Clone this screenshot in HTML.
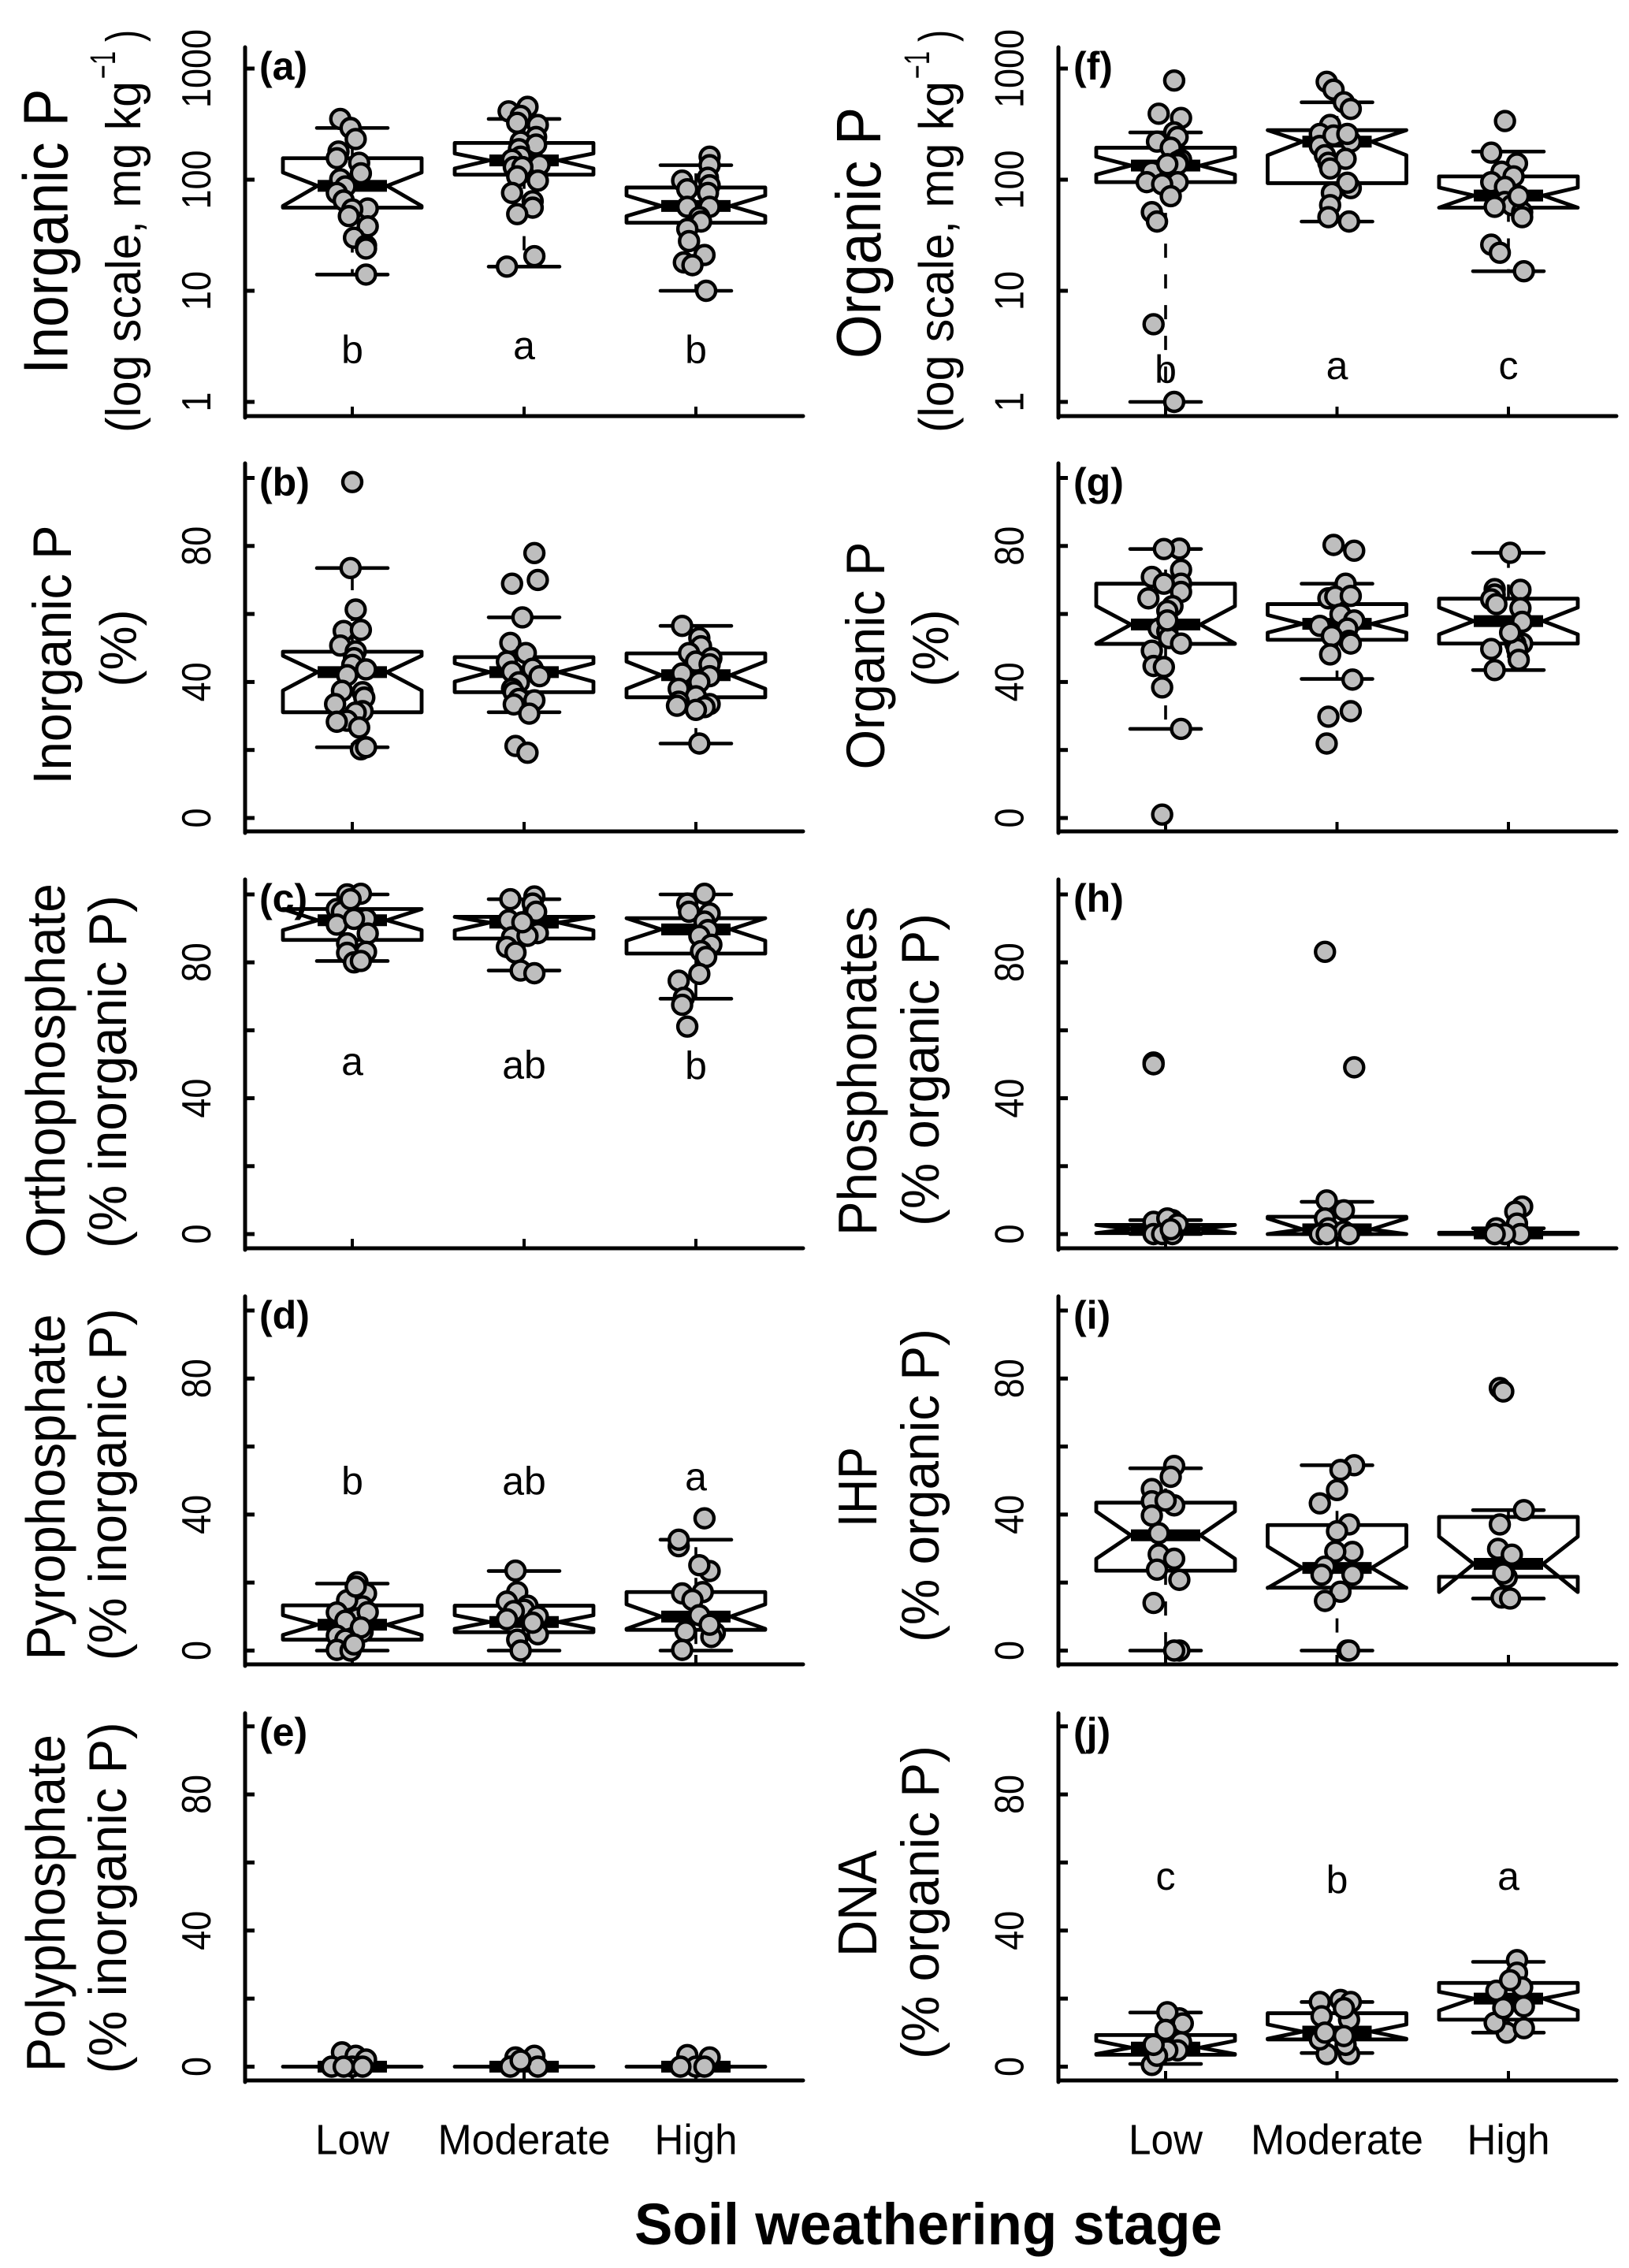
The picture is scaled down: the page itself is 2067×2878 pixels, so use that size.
<!DOCTYPE html>
<html lang="en">
<head>
<meta charset="utf-8">
<title>Soil phosphorus composition by weathering stage</title>
<style>
html,body{margin:0;padding:0;background:#fff}
svg{display:block}
text{font-family:"Liberation Sans",Arial,sans-serif;fill:#000}
.ttl{text-anchor:middle;font-size:70px}
.sub{text-anchor:middle;font-size:68px}
</style>
</head>
<body>
<svg id="figure" xmlns="http://www.w3.org/2000/svg" width="2067" height="2878" viewBox="0 0 2067 2878">
<rect width="2067" height="2878" fill="#fff"/>
<g id="plots"></g>

<text class="ttl" style="font-size:80px" x="85.6" y="293.7" textLength="362" lengthAdjust="spacingAndGlyphs" transform="rotate(-90 85.6 293.7)">Inorganic P</text>
<text class="sub" style="font-size:62px" x="178" y="326" textLength="446" lengthAdjust="spacingAndGlyphs" transform="rotate(-90 178 326)">(log scale, mg kg</text>
<text class="sub" style="font-size:45px" x="146" y="82.6" textLength="35" lengthAdjust="spacingAndGlyphs" transform="rotate(-90 146 82.6)">−1</text>
<text class="sub" style="font-size:62px" x="178" y="45.5" textLength="15" lengthAdjust="spacingAndGlyphs" transform="rotate(-90 178 45.5)">)</text>

<text class="ttl" style="font-size:69px" x="90" y="831" textLength="329" lengthAdjust="spacingAndGlyphs" transform="rotate(-90 90 831)">Inorganic P</text>
<text class="sub" style="font-size:65px" x="172.6" y="822.5" textLength="98" lengthAdjust="spacingAndGlyphs" transform="rotate(-90 172.6 822.5)">(%)</text>

<text class="ttl" x="82" y="1358.5" textLength="475" lengthAdjust="spacingAndGlyphs" transform="rotate(-90 82 1358.5)">Orthophosphate</text>
<text class="sub" x="160" y="1360" textLength="448" lengthAdjust="spacingAndGlyphs" transform="rotate(-90 160 1360)">(% inorganic P)</text>

<text class="ttl" x="82" y="1887" textLength="439" lengthAdjust="spacingAndGlyphs" transform="rotate(-90 82 1887)">Pyrophosphate</text>
<text class="sub" x="160" y="1883.8" textLength="447" lengthAdjust="spacingAndGlyphs" transform="rotate(-90 160 1883.8)">(% inorganic P)</text>

<text class="ttl" x="82" y="2415" textLength="428" lengthAdjust="spacingAndGlyphs" transform="rotate(-90 82 2415)">Polyphosphate</text>
<text class="sub" x="160" y="2408.3" textLength="446" lengthAdjust="spacingAndGlyphs" transform="rotate(-90 160 2408.3)">(% inorganic P)</text>

<text class="ttl" style="font-size:80px" x="1117" y="295.5" textLength="319" lengthAdjust="spacingAndGlyphs" transform="rotate(-90 1117 295.5)">Organic P</text>
<text class="sub" style="font-size:62px" x="1209.5" y="326" textLength="446" lengthAdjust="spacingAndGlyphs" transform="rotate(-90 1209.5 326)">(log scale, mg kg</text>
<text class="sub" style="font-size:45px" x="1179" y="82.6" textLength="35" lengthAdjust="spacingAndGlyphs" transform="rotate(-90 1179 82.6)">−1</text>
<text class="sub" style="font-size:62px" x="1209.5" y="45.5" textLength="15" lengthAdjust="spacingAndGlyphs" transform="rotate(-90 1209.5 45.5)">)</text>

<text class="ttl" style="font-size:69px" x="1122" y="832" textLength="289" lengthAdjust="spacingAndGlyphs" transform="rotate(-90 1122 832)">Organic P</text>
<text class="sub" style="font-size:65px" x="1203" y="822.5" textLength="98" lengthAdjust="spacingAndGlyphs" transform="rotate(-90 1203 822.5)">(%)</text>

<text class="ttl" x="1112" y="1359" textLength="418" lengthAdjust="spacingAndGlyphs" transform="rotate(-90 1112 1359)">Phosphonates</text>
<text class="sub" x="1191" y="1357.5" textLength="397" lengthAdjust="spacingAndGlyphs" transform="rotate(-90 1191 1357.5)">(% organic P)</text>

<text class="ttl" x="1112" y="1887" textLength="102" lengthAdjust="spacingAndGlyphs" transform="rotate(-90 1112 1887)">IHP</text>
<text class="sub" x="1191" y="1885" textLength="398" lengthAdjust="spacingAndGlyphs" transform="rotate(-90 1191 1885)">(% organic P)</text>

<text class="ttl" x="1112" y="2415.5" textLength="135" lengthAdjust="spacingAndGlyphs" transform="rotate(-90 1112 2415.5)">DNA</text>
<text class="sub" x="1191" y="2414" textLength="398" lengthAdjust="spacingAndGlyphs" transform="rotate(-90 1191 2414)">(% organic P)</text>

<text x="1178" y="2848" text-anchor="middle" font-weight="bold" font-size="74" textLength="746" lengthAdjust="spacingAndGlyphs">Soil weathering stage</text>
</svg>

<script>
// ---------- shared axis data ----------
const categories = ['Low', 'Moderate', 'High'];
const logTicks = [1, 10, 100, 1000];
const logTickLabels = ['1', '10', '100', '1000'];
const pctTicks = [0, 20, 40, 60, 80, 100];
const pctTickLabels = ['0', '', '40', '', '80', ''];

// Each stats row: lower whisker, Q1, notch low, median, notch high, Q3, upper whisker
// ---------- panel a: inorganic P, mg/kg ----------
const aStats = [[14,56,58,88,116,156,292],[16.5,111,126,149,172,214,352],[10,41,47,58,72,85,135]];
const aValues = [
 [352,292,232,179,156,142,114,101,87,76,65,55,54,47,38,30,25.5,24,14],
 [452,412,375,325,311,242,220,207,188,161,151,136,130,130,107,98,76,64,56,49,20.5,16.5],
 [161,135,104,98,89,82,76,57,57,46,42,36,28,21,18,17,10]];
const aJitter = [
 [-.07,-.01,.02,-.08,-.09,.04,.05,-.07,-.04,-.09,-.05,.09,0,-.02,.09,.01,.08,.08,.08],
 [.02,-.09,-.02,-.04,.08,.07,-.02,.07,-.03,-.02,-.07,.09,-.06,-.01,-.04,.08,-.07,.05,.05,-.04,.06,-.1],
 [.08,.08,.07,-.08,.08,-.05,.07,-.05,.08,.02,.03,-.05,-.04,.05,-.07,-.02,.06]];
const aLetters = ['b', 'a', 'b'];

// ---------- panel b: inorganic P, % ----------
const bStats = [[20.8,31.1,37.5,42.9,47.7,48.9,73.5],[31.1,37,40.1,42.9,45.5,47.3,59],[21.9,35.5,38,42,46,48.4,56.5]];
const bValues = [
 [98.8,73.5,61.3,55,55.3,50.7,49,47,45,43.7,42,37.4,37,35.4,33.5,31.4,31,28.6,28.3,26.6,20.2,20.8],
 [77.9,70,68.9,59,51.5,48.5,46,43.9,43,41.7,39.9,38,37,35,34.6,33.4,30.7,21.2,19.2],
 [56.5,52.9,50.5,48.5,47,46,45.2,42.5,41.7,40,38,35.8,34.2,33,33.5,32.6,31.8,21.9]];
const bJitter = [
 [0,-.01,.02,-.05,.05,-.07,.02,.01,0,.08,-.03,-.06,.06,.07,-.1,.06,.02,-.03,-.09,.04,.05,.08],
 [.06,.08,-.07,-.01,-.08,.01,-.1,.05,-.07,.09,-.03,-.07,-.06,-.03,.06,-.06,.03,-.05,.02],
 [-.08,.02,.03,-.04,.09,0,.08,-.08,.08,.02,-.1,0,-.1,-.11,.08,.05,0,.02]];
const bLetters = ['', '', ''];

// ---------- panel c: orthophosphate, % ----------
const cStats = [[80.4,86.6,89.5,92.4,95.7,95.7,100],[77.6,87,89.4,91.7,93.4,93.4,98.6],[69.3,82.6,86.4,89.7,93,93,100]];
const cValues = [
 [100,100.2,95.7,94.9,91.1,92.8,88.5,85.6,83.1,82.8,80,80.4,98.6,92.8],
 [98.6,99.4,97.3,94.9,92.4,88.6,87.4,87.8,84.5,82.9,77.6,76.8,91.8],
 [100.2,97.3,94.9,94.4,92,89.5,87.8,85.2,83.3,81.6,76.6,74.6,69.6,67.5,61.1]];
const cJitter = [
 [-.03,.05,-.09,-.06,-.09,.08,.09,-.03,.08,-.03,.01,.05,-.01,.01],
 [-.08,.06,.05,.07,-.09,.08,-.07,.02,-.1,-.05,-.02,.06,-.01],
 [.05,-.05,-.04,.08,.05,.07,.02,.09,.03,.06,.02,-.1,-.07,-.08,-.05]];
const cLetters = ['a', 'ab', 'b'];

// ---------- panel d: pyrophosphate, % ----------
const dStats = [[0,3.2,4.6,7.6,10.4,13.3,19.7],[0,5.4,6.4,8.4,10.4,13.2,23.4],[0,6.1,6.4,10,13.6,17.2,32.6]];
const dValues = [
 [20.1,16.8,13,14.8,9.5,11.3,11.2,5.5,8.8,6.8,4.4,3.2,0.2,0,18.8,1.8],
 [23.5,17.2,14.4,13.2,12,11.6,9.2,6,4.8,3.2,10,8.2,0],
 [38.9,30.7,32.6,23.4,25.1,17.2,16.8,14.9,10.4,5.2,4,7.6,5.6,0.2]];
const dJitter = [
 [.03,.08,.06,-.03,.03,.09,-.09,.06,-.04,.05,-.09,-.04,-.09,-.01,.02,.01],
 [-.05,-.04,-.1,.02,0,-.06,-.1,.05,.08,-.04,.08,.05,-.02],
 [.05,-.1,-.1,.08,.02,.04,-.08,-.02,.02,.11,.09,.08,-.06,-.08]];
const dLetters = ['b', 'ab', 'a'];

// ---------- panel e: polyphosphate, % ----------
const eStats = [[0,0,0,0,0,0,0],[0,0,0,0,0,0,0],[0,0,0,0,0,0,0]];
const eValues = [
 [4.2,3.2,2.1,0,0,0,0],
 [3.2,2.7,0,0,1.8],
 [3.4,2.7,0,0,0]];
const eJitter = [
 [-.06,.02,.08,-.12,0,-.05,.06],
 [.06,-.05,-.08,.08,-.02],
 [-.05,.08,0,-.09,.05]];
const eLetters = ['', '', ''];

// ---------- panel f: organic P, mg/kg ----------
const fStats = [[1,95,111,134,161,194,266],[42,93,166,220,279,279,497],[15,56,56,72,85,107,179]];
const fValues = [
 [780,392,359,266,242,220,194,151,145,138,118,138,95,95,91,71,51,42,5,1],
 [760,646,497,433,311,258,201,220,166,142,154,126,84,94,76,59,46,42,250,258],
 [337,175,140,118,107,95,86,63,59,57,51,46,71,26,22,15]];
const fJitter = [
 [.05,-.04,.09,.05,.07,-.05,.03,.09,.07,.07,-.08,.01,.07,-.11,-.02,.03,-.08,-.05,-.07,.05],
 [-.06,-.02,.04,.08,-.04,-.1,-.1,.08,-.07,-.05,.05,-.04,.08,.06,-.03,-.04,-.05,.07,-.02,.06],
 [-.02,-.1,.05,-.04,.03,-.1,-.02,-.02,.02,-.08,.08,.08,.06,-.1,-.05,.09]];
const fLetters = ['b', 'a', 'c'];

// ---------- panel g: organic P, % ----------
const gStats = [[26.2,51.2,51.3,56.9,62.3,68.9,79.1],[40.9,52.4,54.5,57.1,59.7,62.9,68.9],[43.5,51.3,54,57.9,61.9,64.5,78]];
const gValues = [
 [79.2,79.1,73,70.9,68.9,68.9,66.5,64.6,62.3,60.9,55.7,54.9,52.9,51.3,58.1,49.2,44.7,44.4,38.4,26.2,1],
 [80.3,78.6,68.9,64.6,65.1,65.3,59.9,58.1,56.5,55.7,52.1,51.3,53.5,48.1,40.7,31.4,29.8,21.9],
 [78,67.3,67.1,65.7,64.3,62.9,61.7,57.7,51.3,51.3,49.7,49.7,46.5,54.5,43.5]];
const gJitter = [
 [.08,-.01,.09,-.08,.09,-.01,.09,-.1,.04,.01,-.04,.01,.02,.09,.01,-.08,-.07,-.01,-.02,.09,-.02],
 [-.02,.1,.05,-.05,-.01,.08,.02,.1,-.1,.06,.07,.08,-.03,-.04,.09,.08,-.05,-.06],
 [.01,-.08,.07,-.08,-.1,-.07,.07,.08,.08,.04,.05,-.1,.06,.01,-.08]];
const gLetters = ['', '', ''];

// ---------- panel h: phosphonates, % ----------
const hStats = [[0,0.3,0.3,1.5,2.7,2.7,4.1],[0,0,0,1.4,4.6,5.1,9.5],[0,0,0,0.2,0.4,0.4,1.7]];
const hValues = [
 [50.5,50,4.1,3.6,4.6,2.9,0,0,0,1.4],
 [83.1,49.1,9.9,7,4.6,1.7,0.8,0,0,0],
 [8.1,6.6,3.1,1.7,0,0,0]];
const hJitter = [
 [-.07,-.07,.04,-.07,.01,.07,-.07,-.02,.04,.03],
 [-.07,.1,-.06,.04,-.07,-.05,.04,-.1,.07,-.06],
 [.08,.04,.05,-.07,.07,-.02,-.08]];
const hLetters = ['', '', ''];

// ---------- panel i: IHP, % ----------
const iStats = [[0,23.5,27,33.9,40.9,43.5,53.6],[0,18.5,18.4,24.3,30.6,36.9,54.5],[15.3,21.7,17.2,25.5,33.5,39.3,41.3]];
const iValues = [
 [54.3,51.1,47.5,43.9,42.7,44.1,39.7,34.5,28.3,27,23.8,20.8,14,0,0],
 [54.5,53.1,47.2,43.3,37.1,35.1,29,29.1,24.7,22.3,22.3,17.3,14.6,0,0],
 [77.2,76.2,41.3,37.1,29.9,28.2,21.5,22.7,15.6,15.3]];
const iJitter = [
 [.05,.03,-.08,-.08,.05,0,-.08,-.04,-.04,.05,-.05,.08,-.07,.08,.05],
 [.1,.02,0,-.1,.07,0,.09,-.01,-.07,-.09,.09,.02,-.07,.06,.07],
 [-.05,-.03,.09,-.05,-.06,.02,-.01,-.03,-.04,.01]];
const iLetters = ['', '', ''];

// ---------- panel j: DNA, % ----------
const jStats = [[0.8,3.5,3.7,5.6,7.6,9.3,15.9],[4,8,8.2,10.3,12.4,15.7,19],[10,13.8,16.5,20,22,24.6,30.8]];
const jValues = [
 [14.2,12.7,16,10.8,7.2,4.8,4.8,0.5,3.2,6.4],
 [19,19.6,19,14.8,13.8,3.7,3.7,8,6.4,10,9,17.2],
 [31.3,27.6,22.3,10,12.9,11.3,17.2,17.7,23.3,25.4]];
const jJitter = [
 [.08,.1,.01,0,.09,.07,.01,-.08,-.05,-.07],
 [-.1,.02,.08,-.09,.07,-.06,.07,-.1,.05,-.07,.04,.04],
 [.05,.05,-.07,-.01,-.08,.09,-.03,.09,.08,.01]];
const jLetters = ['c', 'b', 'a'];

const NS = 'http://www.w3.org/2000/svg';
const root = document.getElementById('plots');

function mk(tag, attrs, parent) {
  const n = document.createElementNS(NS, tag);
  for (const k in attrs) n.setAttribute(k, attrs[k]);
  parent.appendChild(n);
  return n;
}

const leftCol = {axisX: 311, endX: 1019, cat0: 447, catStep: 218, labelX: 267, tagX: 329};
const rightCol = {axisX: 1343, endX: 2051, cat0: 1479, catStep: 217.5, labelX: 1298.5, tagX: 1362};

const panels = [
 {id:'a', col:leftCol,  top:60,   bottom:528,  log:true, y0:510, y1:369, stats:aStats, values:aValues, jitter:aJitter, letters:aLetters, letterY:[461,455.4,461]},
 {id:'b', col:leftCol,  top:588,  bottom:1055, y0:1038,   y100:606.5,  stats:bStats, values:bValues, jitter:bJitter, letters:bLetters, letterY:[]},
 {id:'c', col:leftCol,  top:1116, bottom:1584, y0:1566,   y100:1135,   stats:cStats, values:cValues, jitter:cJitter, letters:cLetters, letterY:[1364,1368.6,1369.6]},
 {id:'d', col:leftCol,  top:1645, bottom:2112, y0:2094.5, y100:1663,   stats:dStats, values:dValues, jitter:dJitter, letters:dLetters, letterY:[1896.5,1896.5,1891]},
 {id:'e', col:leftCol,  top:2174, bottom:2640, y0:2622.5, y100:2190.7, stats:eStats, values:eValues, jitter:eJitter, letters:eLetters, letterY:[], xLabels:true},
 {id:'f', col:rightCol, top:60,   bottom:528,  log:true, y0:510, y1:369, stats:fStats, values:fValues, jitter:fJitter, letters:fLetters, letterY:[486,481,481]},
 {id:'g', col:rightCol, top:588,  bottom:1055, y0:1038,   y100:606.5,  stats:gStats, values:gValues, jitter:gJitter, letters:gLetters, letterY:[]},
 {id:'h', col:rightCol, top:1116, bottom:1584, y0:1566,   y100:1135,   stats:hStats, values:hValues, jitter:hJitter, letters:hLetters, letterY:[]},
 {id:'i', col:rightCol, top:1645, bottom:2112, y0:2094.5, y100:1663,   stats:iStats, values:iValues, jitter:iJitter, letters:iLetters, letterY:[]},
 {id:'j', col:rightCol, top:2174, bottom:2640, y0:2622.5, y100:2190.7, stats:jStats, values:jValues, jitter:jJitter, letters:jLetters, letterY:[2398,2402.7,2398], xLabels:true}
];

const BOX_HALF = 88, NOTCH_HALF = 44, CAP_HALF = 45, MED_THICK = 15;

function drawPanel(p) {
  const c = p.col;
  const yScale = p.log
    ? v => p.y0 - Math.log10(v) * (p.y0 - p.y1)
    : v => p.y0 - (v / 100) * (p.y0 - p.y100);
  const xScale = i => c.cat0 + i * c.catStep;
  const spacing = 218;

  const g = mk('g', {}, root);
  
  

  // axes
  const yAxis = mk('line', {x1:c.axisX, x2:c.axisX, y1:p.top, y2:p.bottom + 2, stroke:'#000', 'stroke-width':5, 'stroke-linecap':'round'}, g);
  
  
  const xAxis = mk('line', {x1:c.axisX, x2:c.endX, y1:p.bottom, y2:p.bottom, stroke:'#000', 'stroke-width':5, 'stroke-linecap':'round'}, g);
  
  

  const ticks = p.log ? logTicks : pctTicks;
  const labels = p.log ? logTickLabels : pctTickLabels;
  ticks.forEach((t, k) => {
    const y = yScale(t);
    const tick = mk('line', {x1:c.axisX, x2:c.axisX + 12, y1:y, y2:y, stroke:'#000', 'stroke-width':5}, g);
    
    
    if (labels[k]) {
      const lab = mk('text', {x:c.labelX, y:y, 'font-size':52, 'text-anchor':'middle', textLength:labels[k].length * 25, lengthAdjust:'spacingAndGlyphs', transform:'rotate(-90 ' + c.labelX + ' ' + y + ')'}, g);
      lab.textContent = labels[k];
      
      
    }
  });

  categories.forEach((cat, i) => {
    const x = xScale(i);
    const tick = mk('line', {x1:x, x2:x, y1:p.bottom, y2:p.bottom - 12, stroke:'#000', 'stroke-width':4}, g);
    
    

    // boxplot
    const [lo, q1, nLo, med, nHi, q3, hi] = p.stats[i];
    const Y = v => yScale(v);
    const wU = mk('line', {x1:x, x2:x, y1:Y(q3), y2:Y(hi), stroke:'#000', 'stroke-width':3.6, 'stroke-dasharray':'18 21'}, g);
    
    
    const wL = mk('line', {x1:x, x2:x, y1:Y(q1), y2:Y(lo), stroke:'#000', 'stroke-width':3.6, 'stroke-dasharray':'18 21'}, g);
    
    
    const capU = mk('line', {x1:x - CAP_HALF, x2:x + CAP_HALF, y1:Y(hi), y2:Y(hi), stroke:'#000', 'stroke-width':4.6, 'stroke-linecap':'round'}, g);
    
    
    const capL = mk('line', {x1:x - CAP_HALF, x2:x + CAP_HALF, y1:Y(lo), y2:Y(lo), stroke:'#000', 'stroke-width':4.6, 'stroke-linecap':'round'}, g);
    
    

    const L = x - BOX_HALF, R = x + BOX_HALF, nl = x - NOTCH_HALF, nr = x + NOTCH_HALF;
    const d = 'M' + L + ' ' + Y(q3) + 'L' + L + ' ' + Y(nHi) + 'L' + nl + ' ' + Y(med) + 'L' + L + ' ' + Y(nLo) + 'L' + L + ' ' + Y(q1) +
              'L' + R + ' ' + Y(q1) + 'L' + R + ' ' + Y(nLo) + 'L' + nr + ' ' + Y(med) + 'L' + R + ' ' + Y(nHi) + 'L' + R + ' ' + Y(q3) + 'Z';
    const box = mk('path', {d:d, fill:'none', stroke:'#000', 'stroke-width':4.8, 'stroke-linejoin':'round'}, g);
    
    
    const medBar = mk('rect', {x:nl, y:Y(med) - MED_THICK / 2, width:NOTCH_HALF * 2, height:MED_THICK, fill:'#000'}, g);
    
    

    // points
    p.values[i].forEach((v, k) => {
      const cx = x + p.jitter[i][k] * spacing;
      const pt = mk('circle', {cx:cx, cy:Y(v), r:12, fill:'#bebebe', stroke:'#000', 'stroke-width':4.4}, g);
      
      
    });

    // group letters
    if (p.letters[i]) {
      const let1 = mk('text', {x:x, y:p.letterY[i], 'font-size':50, 'text-anchor':'middle'}, g);
      let1.textContent = p.letters[i];
      
      
    }

    // category labels
    if (p.xLabels) {
      const xl = mk('text', {x:x, y:2733.7, 'font-size':54, 'text-anchor':'middle', textLength:[94,219,105][i], lengthAdjust:'spacingAndGlyphs'}, g);
      xl.textContent = cat;
      
      
    }
  });

  const tag = mk('text', {x:c.tagX, y:p.top + 41, 'font-size':50, 'font-weight':'bold'}, g);
  tag.textContent = '(' + p.id + ')';
  
  
}

panels.forEach(drawPanel);
</script>
</body>
</html>
